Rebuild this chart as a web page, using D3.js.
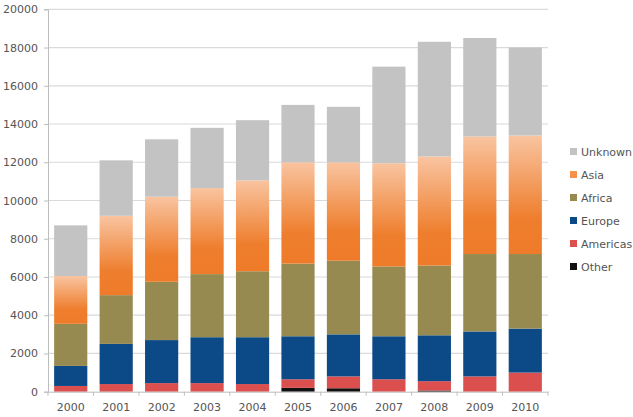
<!DOCTYPE html>
<html>
<head>
<meta charset="utf-8">
<script src="https://cdn.jsdelivr.net/npm/d3@7"></script>
<style>
  body { margin: 0; background: #fff; }
  text { font-family: "DejaVu Sans", sans-serif; }
</style>
</head>
<body>
<svg id="chart" width="633" height="417"></svg>
<script>
// data
var years = ['2000','2001','2002','2003','2004','2005','2006','2007','2008','2009','2010'];
var other    = [0, 0, 0, 0, 0, 200, 180, 0, 60, 0, 0];
var americas = [300, 400, 450, 450, 400, 450, 620, 650, 490, 800, 1000];
var europe   = [1050, 2100, 2250, 2400, 2450, 2250, 2200, 2250, 2400, 2350, 2300];
var africa   = [2200, 2550, 3050, 3300, 3450, 3800, 3850, 3650, 3650, 4050, 3900];
var asia     = [2500, 4150, 4450, 4500, 4750, 5300, 5150, 5400, 5700, 6150, 6200];
var unknown  = [2650, 2900, 3000, 3150, 3150, 3000, 2900, 5050, 6000, 5150, 4600];
var yTicks = [0, 2000, 4000, 6000, 8000, 10000, 12000, 14000, 16000, 18000, 20000];

var seriesNames = ['Other', 'Americas', 'Europe', 'Africa', 'Asia', 'Unknown'];
var seriesData = [other, americas, europe, africa, asia, unknown];
var colors = {
  Other: '#111111',
  Americas: '#dc4f4f',
  Europe: '#0c4a87',
  Africa: '#968a50',
  Asia: 'url(#asiaGrad)',
  Unknown: '#c3c3c3'
};
var legendColors = {
  Other: '#111111', Americas: '#dc4f4f', Europe: '#0c4a87',
  Africa: '#968a50', Asia: '#f4914a', Unknown: '#c3c3c3'
};

var rows = years.map(function(y, i){
  var r = { year: y };
  seriesNames.forEach(function(s, k){ r[s] = seriesData[k][i]; });
  return r;
});

var svg = d3.select('#chart');
var plotLeft = 48, plotRight = 548, plotTop = 9.3, plotBottom = 391.7;

var defs = svg.append('defs');
var grad = defs.append('linearGradient')
  .attr('id', 'asiaGrad')
  .attr('x1', 0).attr('y1', 0).attr('x2', 0).attr('y2', 1);
grad.append('stop').attr('offset', '0%').attr('stop-color', '#f9c4a0');
grad.append('stop').attr('offset', '70%').attr('stop-color', '#ee7e2d');
grad.append('stop').attr('offset', '100%').attr('stop-color', '#ee7b2a');

var x = d3.scaleBand().domain(years).range([plotLeft, plotRight]).paddingInner(0.27).paddingOuter(0.135);
var y = d3.scaleLinear().domain([0, 20000]).range([plotBottom, plotTop]);

// gridlines
svg.append('g').selectAll('line')
  .data(yTicks.slice(1))
  .enter().append('line')
  .attr('x1', plotLeft).attr('x2', plotRight)
  .attr('y1', function(d){ return y(d); })
  .attr('y2', function(d){ return y(d); })
  .attr('stroke', '#dadada')
  .attr('stroke-width', 1.2);

var stack = d3.stack().keys(seriesNames)(rows);

svg.append('g').selectAll('g')
  .data(stack)
  .enter().append('g')
  .attr('fill', function(d){ return colors[d.key]; })
  .selectAll('rect')
  .data(function(d){ return d; })
  .enter().append('rect')
  .attr('x', function(d){ return x(d.data.year); })
  .attr('width', x.bandwidth())
  .attr('y', function(d){ return y(d[1]); })
  .attr('height', function(d){ return y(d[0]) - y(d[1]); });

// axes
var yAxis = svg.append('g')
  .attr('transform', 'translate(' + plotLeft + ',0)')
  .call(d3.axisLeft(y).tickValues(yTicks).tickFormat(d3.format('d')).tickSize(4).tickPadding(6));
yAxis.select('.domain').attr('stroke', '#bdbdbd');
yAxis.selectAll('.tick line').attr('stroke', '#bdbdbd');
yAxis.selectAll('text').attr('fill', '#555').style('font-size', '11px');

var xAxis = svg.append('g')
  .attr('transform', 'translate(0,' + plotBottom + ')')
  .call(d3.axisBottom(x).tickSize(0).tickPadding(12));
xAxis.select('.domain').attr('stroke', '#bdbdbd');
xAxis.selectAll('text').attr('fill', '#555').style('font-size', '11px');

// category boundary ticks
var step = x.step();
svg.append('g').selectAll('line')
  .data(d3.range(years.length + 1))
  .enter().append('line')
  .attr('x1', function(i){ return plotLeft + i * step; })
  .attr('x2', function(i){ return plotLeft + i * step; })
  .attr('y1', plotBottom).attr('y2', plotBottom + 4)
  .attr('stroke', '#bdbdbd');

// legend
var legendOrder = ['Unknown', 'Asia', 'Africa', 'Europe', 'Americas', 'Other'];
var legend = svg.append('g').selectAll('g')
  .data(legendOrder)
  .enter().append('g')
  .attr('transform', function(d, i){ return 'translate(570,' + (151.5 + i * 23) + ')'; });
legend.append('rect')
  .attr('x', 0).attr('y', -3.5).attr('width', 7).attr('height', 7)
  .attr('fill', function(d){ return legendColors[d]; });
legend.append('text')
  .attr('x', 11).attr('y', 4)
  .attr('fill', '#555')
  .style('font-size', '11px')
  .text(function(d){ return d; });
</script>
</body>
</html>
